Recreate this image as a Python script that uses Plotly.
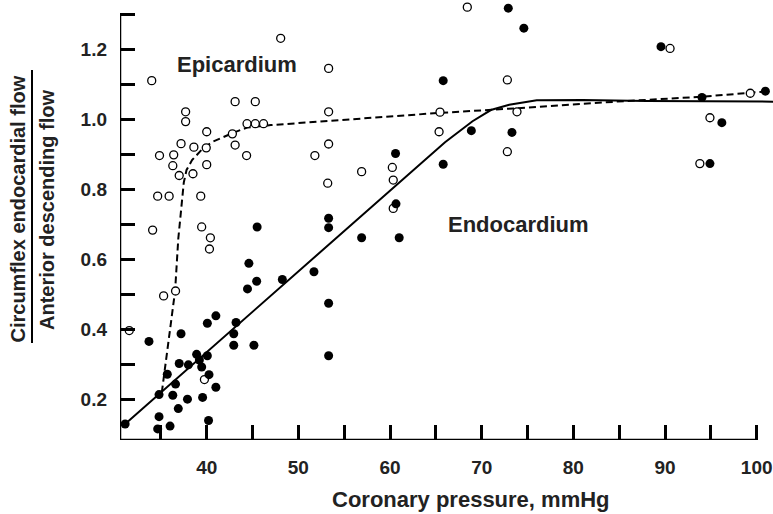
import plotly.graph_objects as go

# Epicardium (open circles)
epi_x = [34.0, 37.7, 37.7, 43.1, 45.3, 40.0, 42.8, 44.4, 45.3, 46.2, 37.2, 38.6, 39.95, 43.1,
         34.85, 36.4, 44.35, 36.3, 40.0, 37.0, 38.5, 34.65, 35.9, 39.35, 34.1, 39.45, 40.4, 40.3,
         35.3, 36.6, 31.55, 39.75, 48.07, 53.3, 53.3, 53.3, 51.8, 56.9, 60.25, 60.35, 53.2, 60.35,
         65.45, 65.35, 68.43, 72.8, 73.85, 72.8, 90.55, 99.3, 94.9, 93.8]
epi_y = [1.111, 1.022, 0.994, 1.051, 1.051, 0.965, 0.959, 0.988, 0.988, 0.988, 0.931, 0.921, 0.919, 0.927,
         0.897, 0.899, 0.897, 0.868, 0.871, 0.840, 0.845, 0.781, 0.781, 0.781, 0.684, 0.693, 0.662, 0.630,
         0.496, 0.510, 0.397, 0.257, 1.232, 1.146, 1.022, 0.930, 0.897, 0.851, 0.863, 0.827, 0.818, 0.746,
         1.021, 0.965, 1.321, 1.113, 1.022, 0.908, 1.203, 1.075, 1.005, 0.874]

# Endocardium (filled circles)
endo_x = [45.5, 44.6, 45.45, 44.45, 41.0, 40.07, 37.2, 33.7, 43.2, 42.95, 42.95, 45.15, 38.9, 40.07,
          39.2, 37.0, 38.0, 39.45, 35.7, 40.25, 36.6, 41.0, 34.8, 36.3, 37.9, 39.55, 36.9, 34.8,
          31.1, 40.2, 36.0, 34.65, 65.8, 60.6, 65.8, 60.65, 53.3, 53.3, 56.9, 61.0, 48.25, 51.7,
          53.3, 53.3, 72.9, 74.6, 89.56, 100.95, 94.03, 96.2, 94.9, 68.87, 73.3]
endo_y = [0.693, 0.589, 0.538, 0.516, 0.439, 0.418, 0.388, 0.366, 0.420, 0.388, 0.355, 0.355, 0.329, 0.325,
          0.313, 0.303, 0.299, 0.293, 0.272, 0.271, 0.244, 0.235, 0.214, 0.212, 0.201, 0.206, 0.174, 0.151,
          0.130, 0.140, 0.124, 0.116, 1.111, 0.903, 0.872, 0.759, 0.718, 0.691, 0.662, 0.662, 0.543, 0.565,
          0.475, 0.325, 1.318, 1.261, 1.208, 1.081, 1.063, 0.991, 0.874, 0.968, 0.963]

# Fitted curves
endo_fit_x = [31.1, 66.0, 67.5, 69.0, 71.0, 73.0, 76.0, 81.0, 88.0, 102.0]
endo_fit_y = [0.130, 0.935, 0.965, 0.995, 1.027, 1.042, 1.055, 1.056, 1.053, 1.051]
epi_fit_x = [35.1, 36.55, 36.9, 37.5, 37.8, 38.4, 39.6, 40.7, 42.9, 44.4, 47.0, 56.7, 65.5, 73.8, 84.7, 94.0, 101.0]
epi_fit_y = [0.220, 0.510, 0.660, 0.820, 0.856, 0.884, 0.918, 0.937, 0.962, 0.977, 0.984, 1.003, 1.019, 1.032, 1.051, 1.065, 1.080]

# Axis ticks
x_tickvals = [35, 40, 45, 50, 55, 60, 65, 70, 75, 80, 85, 90, 95, 100]
x_ticktext = ["", "40", "", "50", "", "60", "", "70", "", "80", "", "90", "", "100"]
y_tickvals = [0.2, 0.3, 0.4, 0.5, 0.6, 0.7, 0.8, 0.9, 1.0, 1.1, 1.2, 1.3]
y_ticktext = ["0.2", "", "0.4", "", "0.6", "", "0.8", "", "1.0", "", "1.2", ""]

X_MIN, X_MAX = 30.54, 101.78
Y_MIN, Y_MAX = 0.0843, 1.3414
X_AXIS_END = 100
Y_AXIS_END = 1.3

FONT = "Liberation Sans, Arial, Helvetica, sans-serif"

fig = go.Figure()
fig.add_trace(go.Scatter(x=endo_fit_x, y=endo_fit_y, mode="lines",
                         line=dict(color="black", width=2), hoverinfo="skip", showlegend=False))
fig.add_trace(go.Scatter(x=epi_fit_x, y=epi_fit_y, mode="lines",
                         line=dict(color="black", width=2, dash="7px,4px"), hoverinfo="skip", showlegend=False))
fig.add_trace(go.Scatter(x=epi_x, y=epi_y, mode="markers", cliponaxis=False,
                         marker=dict(symbol="circle", size=8, color="white",
                                     line=dict(color="black", width=1.3)),
                         showlegend=False))
fig.add_trace(go.Scatter(x=endo_x, y=endo_y, mode="markers", cliponaxis=False,
                         marker=dict(symbol="circle", size=9, color="black",
                                     line=dict(width=0)),
                         showlegend=False))

fig.update_layout(
    width=773, height=514,
    margin=dict(l=120, r=0, t=0, b=74),
    paper_bgcolor="white", plot_bgcolor="white",
    font=dict(family=FONT, color="black"),
    xaxis=dict(range=[X_MIN, X_MAX], showgrid=False, zeroline=False, showline=False,
               ticks="inside", ticklen=15, tickwidth=2.5, tickcolor="black",
               tickvals=x_tickvals, ticktext=x_ticktext, ticklabelstandoff=14,
               tickfont=dict(size=19, family=FONT, weight="bold", color="#222")),
    yaxis=dict(range=[Y_MIN, Y_MAX], showgrid=False, zeroline=False, showline=False,
               ticks="inside", ticklen=15, tickwidth=2.5, tickcolor="black",
               tickvals=y_tickvals, ticktext=y_ticktext, ticklabelstandoff=12,
               tickfont=dict(size=19, family=FONT, weight="bold", color="#222")),
)

# axis lines
fig.add_shape(type="line", xref="x", yref="y", x0=X_MIN, x1=X_AXIS_END, y0=Y_MIN, y1=Y_MIN,
              line=dict(color="black", width=2.5))
fig.add_shape(type="line", xref="x", yref="y", x0=X_MIN, x1=X_MIN, y0=Y_MIN, y1=Y_AXIS_END,
              line=dict(color="black", width=2.5))

# labels in plot
fig.add_annotation(x=43.3, y=1.156, text="Epicardium", showarrow=False,
                   xanchor="center", yanchor="middle",
                   font=dict(size=22, family=FONT, weight="bold", color="#222"))
fig.add_annotation(x=73.96, y=0.699, text="Endocardium", showarrow=False,
                   xanchor="center", yanchor="middle",
                   font=dict(size=22, family=FONT, weight="bold", color="#222"))

# x title
fig.add_annotation(x=68.8, y=(440 - 499) / 440, xref="x", yref="paper", text="Coronary pressure, mmHg",
                   showarrow=False, xanchor="center", yanchor="middle",
                   font=dict(size=22, family=FONT, weight="bold", color="#222"))

# y title as a fraction
fig.add_annotation(x=(17.5 - 120) / 653, y=(440 - 209) / 440, xref="paper", yref="paper",
                   text="Circumflex endocardial flow", textangle=-90, showarrow=False,
                   xanchor="center", yanchor="middle",
                   font=dict(size=20, family=FONT, weight="bold", color="#222"))
fig.add_annotation(x=(46.5 - 120) / 653, y=(440 - 210.5) / 440, xref="paper", yref="paper",
                   text="Anterior descending flow", textangle=-90, showarrow=False,
                   xanchor="center", yanchor="middle",
                   font=dict(size=20, family=FONT, weight="bold", color="#222"))
fig.add_shape(type="line", xref="paper", yref="paper",
              x0=(32 - 120) / 653, x1=(32 - 120) / 653, y0=(440 - 70) / 440, y1=(440 - 343) / 440,
              line=dict(color="black", width=2))

fig.write_html("out.html")
